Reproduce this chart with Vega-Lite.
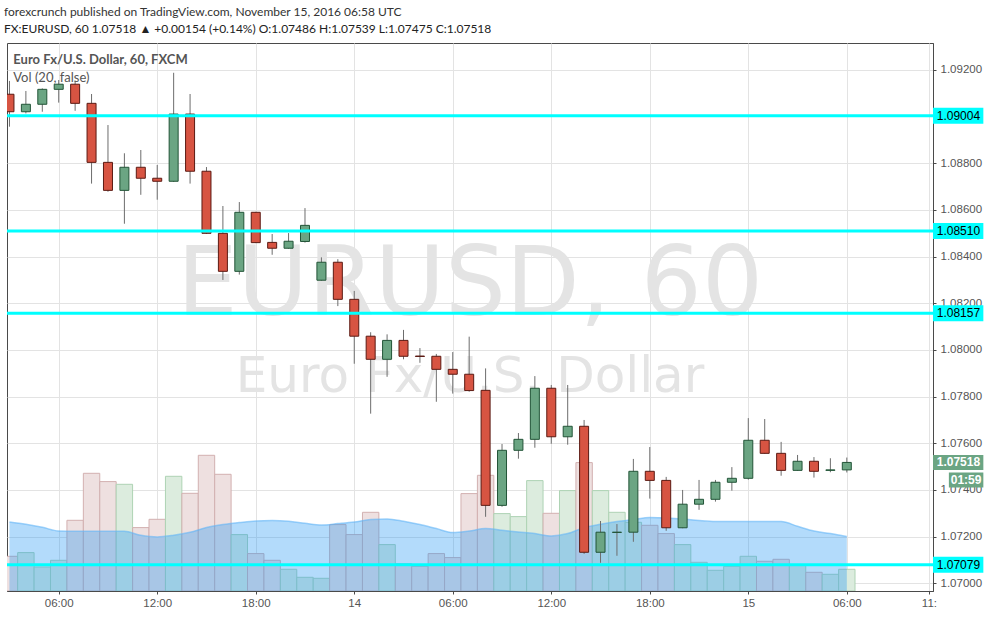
{
  "$schema": "https://vega.github.io/schema/vega-lite/v6.json",
  "width": 926,
  "height": 548,
  "autosize": {"type": "none"},
  "padding": {"left": 7, "top": 43, "right": 58, "bottom": 26},
  "background": "#ffffff",
  "title": {
    "text": "forexcrunch published on TradingView.com, November 15, 2016 06:58 UTC",
    "subtitle": "FX:EURUSD, 60 1.07518 ▲ +0.00154 (+0.14%) O:1.07486 H:1.07539 L:1.07475 C:1.07518",
    "anchor": "start",
    "frame": "group",
    "orient": "top",
    "offset": 7,
    "dx": -3,
    "font": "Lato",
    "fontSize": 12,
    "fontWeight": "normal",
    "color": "#333333",
    "subtitleFont": "Lato",
    "subtitleFontSize": 12,
    "subtitleFontWeight": "normal",
    "subtitleColor": "#222222",
    "subtitlePadding": 5
  },
  "config": {
    "view": {"stroke": "#4a4a4a", "strokeWidth": 1, "fill": "#ffffff"},
    "scale": {"continuousPadding": 0}
  },
  "datasets": {
    "candles": [
      {"t": "2016-11-13T03:00:00Z", "o": 1.09096, "h": 1.09153, "l": 1.08957, "c": 1.09021, "v": 3470, "ma": 6900},
      {"t": "2016-11-13T04:00:00Z", "o": 1.09021, "h": 1.09110, "l": 1.09014, "c": 1.09053, "v": 3840, "ma": 6670},
      {"t": "2016-11-13T05:00:00Z", "o": 1.09053, "h": 1.09121, "l": 1.09021, "c": 1.09117, "v": 2400, "ma": 6370},
      {"t": "2016-11-13T06:00:00Z", "o": 1.09117, "h": 1.09157, "l": 1.09060, "c": 1.09139, "v": 3070, "ma": 6000},
      {"t": "2016-11-13T07:00:00Z", "o": 1.09139, "h": 1.09154, "l": 1.09025, "c": 1.09057, "v": 7070, "ma": 5970},
      {"t": "2016-11-13T08:00:00Z", "o": 1.09057, "h": 1.09097, "l": 1.08713, "c": 1.08804, "v": 11770, "ma": 5970},
      {"t": "2016-11-13T09:00:00Z", "o": 1.08804, "h": 1.08964, "l": 1.08678, "c": 1.08684, "v": 10940, "ma": 5970},
      {"t": "2016-11-13T10:00:00Z", "o": 1.08684, "h": 1.08843, "l": 1.08541, "c": 1.08783, "v": 10670, "ma": 5970},
      {"t": "2016-11-13T11:00:00Z", "o": 1.08783, "h": 1.08857, "l": 1.08665, "c": 1.08736, "v": 6340, "ma": 5570},
      {"t": "2016-11-13T12:00:00Z", "o": 1.08736, "h": 1.08793, "l": 1.08644, "c": 1.08723, "v": 7170, "ma": 5400},
      {"t": "2016-11-13T13:00:00Z", "o": 1.08723, "h": 1.09188, "l": 1.08720, "c": 1.09011, "v": 11470, "ma": 5570},
      {"t": "2016-11-13T14:00:00Z", "o": 1.09011, "h": 1.09097, "l": 1.08713, "c": 1.08766, "v": 9770, "ma": 5870},
      {"t": "2016-11-13T15:00:00Z", "o": 1.08766, "h": 1.08784, "l": 1.08497, "c": 1.08500, "v": 13570, "ma": 6340},
      {"t": "2016-11-13T16:00:00Z", "o": 1.08500, "h": 1.08617, "l": 1.08300, "c": 1.08337, "v": 11670, "ma": 6640},
      {"t": "2016-11-13T17:00:00Z", "o": 1.08337, "h": 1.08634, "l": 1.08323, "c": 1.08590, "v": 5640, "ma": 6840},
      {"t": "2016-11-13T18:00:00Z", "o": 1.08590, "h": 1.08592, "l": 1.08458, "c": 1.08460, "v": 3740, "ma": 7000},
      {"t": "2016-11-13T19:00:00Z", "o": 1.08461, "h": 1.08497, "l": 1.08408, "c": 1.08436, "v": 3070, "ma": 7040},
      {"t": "2016-11-13T20:00:00Z", "o": 1.08436, "h": 1.08501, "l": 1.08434, "c": 1.08466, "v": 2170, "ma": 6970},
      {"t": "2016-11-13T21:00:00Z", "o": 1.08465, "h": 1.08608, "l": 1.08460, "c": 1.08534, "v": 1370, "ma": 6770},
      {"t": "2016-11-13T22:00:00Z", "o": 1.08299, "h": 1.08397, "l": 1.08297, "c": 1.08376, "v": 1270, "ma": 6600},
      {"t": "2016-11-13T23:00:00Z", "o": 1.08376, "h": 1.08389, "l": 1.08188, "c": 1.08217, "v": 6640, "ma": 6740},
      {"t": "2016-11-14T00:00:00Z", "o": 1.08217, "h": 1.08253, "l": 1.07941, "c": 1.08059, "v": 5640, "ma": 6900},
      {"t": "2016-11-14T01:00:00Z", "o": 1.08059, "h": 1.08076, "l": 1.07727, "c": 1.07960, "v": 7870, "ma": 7140},
      {"t": "2016-11-14T02:00:00Z", "o": 1.07960, "h": 1.08067, "l": 1.07885, "c": 1.08041, "v": 4640, "ma": 7200},
      {"t": "2016-11-14T03:00:00Z", "o": 1.08041, "h": 1.08086, "l": 1.07960, "c": 1.07973, "v": 2720, "ma": 6970},
      {"t": "2016-11-14T04:00:00Z", "o": 1.07974, "h": 1.08008, "l": 1.07945, "c": 1.07972, "v": 2470, "ma": 6640},
      {"t": "2016-11-14T05:00:00Z", "o": 1.07973, "h": 1.07983, "l": 1.07778, "c": 1.07917, "v": 3740, "ma": 6240},
      {"t": "2016-11-14T06:00:00Z", "o": 1.07917, "h": 1.07991, "l": 1.07813, "c": 1.07896, "v": 3340, "ma": 5840},
      {"t": "2016-11-14T07:00:00Z", "o": 1.07896, "h": 1.08057, "l": 1.07821, "c": 1.07826, "v": 9740, "ma": 6000},
      {"t": "2016-11-14T08:00:00Z", "o": 1.07827, "h": 1.07921, "l": 1.07285, "c": 1.07334, "v": 11570, "ma": 6240},
      {"t": "2016-11-14T09:00:00Z", "o": 1.07334, "h": 1.07597, "l": 1.07328, "c": 1.07570, "v": 7740, "ma": 6070},
      {"t": "2016-11-14T10:00:00Z", "o": 1.07570, "h": 1.07644, "l": 1.07534, "c": 1.07617, "v": 7440, "ma": 5900},
      {"t": "2016-11-14T11:00:00Z", "o": 1.07617, "h": 1.07888, "l": 1.07581, "c": 1.07836, "v": 11040, "ma": 5740},
      {"t": "2016-11-14T12:00:00Z", "o": 1.07836, "h": 1.07850, "l": 1.07598, "c": 1.07628, "v": 7770, "ma": 5500},
      {"t": "2016-11-14T13:00:00Z", "o": 1.07628, "h": 1.07850, "l": 1.07594, "c": 1.07673, "v": 10040, "ma": 5740},
      {"t": "2016-11-14T14:00:00Z", "o": 1.07673, "h": 1.07700, "l": 1.07126, "c": 1.07133, "v": 12840, "ma": 6340},
      {"t": "2016-11-14T15:00:00Z", "o": 1.07133, "h": 1.07267, "l": 1.07088, "c": 1.07219, "v": 10040, "ma": 6670},
      {"t": "2016-11-14T16:00:00Z", "o": 1.07218, "h": 1.07254, "l": 1.07118, "c": 1.07219, "v": 7870, "ma": 6940},
      {"t": "2016-11-14T17:00:00Z", "o": 1.07219, "h": 1.07533, "l": 1.07178, "c": 1.07480, "v": 6870, "ma": 7140},
      {"t": "2016-11-14T18:00:00Z", "o": 1.07480, "h": 1.07584, "l": 1.07363, "c": 1.07441, "v": 6570, "ma": 7340},
      {"t": "2016-11-14T19:00:00Z", "o": 1.07441, "h": 1.07456, "l": 1.07225, "c": 1.07238, "v": 5740, "ma": 7300},
      {"t": "2016-11-14T20:00:00Z", "o": 1.07238, "h": 1.07400, "l": 1.07236, "c": 1.07339, "v": 4640, "ma": 7200},
      {"t": "2016-11-14T21:00:00Z", "o": 1.07339, "h": 1.07443, "l": 1.07315, "c": 1.07360, "v": 2870, "ma": 7040},
      {"t": "2016-11-14T22:00:00Z", "o": 1.07360, "h": 1.07443, "l": 1.07350, "c": 1.07433, "v": 2070, "ma": 6940},
      {"t": "2016-11-14T23:00:00Z", "o": 1.07433, "h": 1.07498, "l": 1.07397, "c": 1.07450, "v": 2470, "ma": 6940},
      {"t": "2016-11-15T00:00:00Z", "o": 1.07450, "h": 1.07708, "l": 1.07444, "c": 1.07613, "v": 3470, "ma": 6940},
      {"t": "2016-11-15T01:00:00Z", "o": 1.07613, "h": 1.07704, "l": 1.07555, "c": 1.07557, "v": 2970, "ma": 6940},
      {"t": "2016-11-15T02:00:00Z", "o": 1.07557, "h": 1.07606, "l": 1.07461, "c": 1.07484, "v": 3170, "ma": 6940},
      {"t": "2016-11-15T03:00:00Z", "o": 1.07484, "h": 1.07550, "l": 1.07482, "c": 1.07523, "v": 2570, "ma": 6470},
      {"t": "2016-11-15T04:00:00Z", "o": 1.07523, "h": 1.07541, "l": 1.07453, "c": 1.07480, "v": 1870, "ma": 6000},
      {"t": "2016-11-15T05:00:00Z", "o": 1.07484, "h": 1.07536, "l": 1.07476, "c": 1.07486, "v": 1670, "ma": 5740},
      {"t": "2016-11-15T06:00:00Z", "o": 1.07486, "h": 1.07539, "l": 1.07475, "c": 1.07518, "v": 2170, "ma": 5440}
    ],
    "levels": [{"p": 1.09004}, {"p": 1.08510}, {"p": 1.08157}, {"p": 1.07079}],
    "last": [{"p": 1.07518, "countdown": "01:59"}]
  },
  "layer": [
    {
      "data": {"name": "candles"},
      "layer": [
        {
          "mark": {"type": "bar", "width": 16.4, "strokeWidth": 1, "clip": true},
          "encoding": {
            "x": {
              "field": "t", "type": "temporal",
              "scale": {"type": "utc", "padding": 0, "domain": [{"year": 2016, "month": 11, "date": 13, "hours": 2, "minutes": 51, "utc": true}, {"year": 2016, "month": 11, "date": 15, "hours": 11, "minutes": 15, "utc": true}]},
              "axis": {
                "orient": "bottom",
                "title": null,
                "values": [
                  {"year": 2016, "month": 11, "date": 13, "hours": 6, "utc": true},
                  {"year": 2016, "month": 11, "date": 13, "hours": 12, "utc": true},
                  {"year": 2016, "month": 11, "date": 13, "hours": 18, "utc": true},
                  {"year": 2016, "month": 11, "date": 14, "hours": 0, "utc": true},
                  {"year": 2016, "month": 11, "date": 14, "hours": 6, "utc": true},
                  {"year": 2016, "month": 11, "date": 14, "hours": 12, "utc": true},
                  {"year": 2016, "month": 11, "date": 14, "hours": 18, "utc": true},
                  {"year": 2016, "month": 11, "date": 15, "hours": 0, "utc": true},
                  {"year": 2016, "month": 11, "date": 15, "hours": 6, "utc": true},
                  {"year": 2016, "month": 11, "date": 15, "hours": 11, "utc": true}
                ],
                "labelExpr": "utcFormat(datum.value, '%H') == '00' ? utcFormat(datum.value, '%-d') : (utcFormat(datum.value, '%H') == '11' ? '11:' : utcFormat(datum.value, '%H:%M'))",
                "grid": true,
                "gridColor": "#e3e3e3",
                "domainColor": "#4a4a4a",
                "tickColor": "#4a4a4a",
                "tickSize": 3,
                "labelPadding": 3,
                "labelColor": "#555555",
                "labelFont": "Liberation Sans",
                "labelFontSize": 11.5,
                "labelFlush": false,
                "labelOverlap": false
              }
            },
            "y": {"field": "v", "type": "quantitative", "scale": {"domain": [0, 54800], "nice": false, "zero": true, "padding": 0}, "axis": null},
            "fill": {"condition": {"test": "datum.c >= datum.o", "value": "#dcecde"}, "value": "#eee0e0"},
            "stroke": {"condition": {"test": "datum.c >= datum.o", "value": "#aed3b4"}, "value": "#d2b0b0"}
          }
        },
        {
          "mark": {"type": "area", "color": "#2196f3", "opacity": 0.34, "interpolate": "monotone", "clip": true},
          "encoding": {
            "x": {"field": "t", "type": "temporal", "scale": {"type": "utc", "padding": 0, "domain": [{"year": 2016, "month": 11, "date": 13, "hours": 2, "minutes": 51, "utc": true}, {"year": 2016, "month": 11, "date": 15, "hours": 11, "minutes": 15, "utc": true}]}},
            "y": {"field": "ma", "type": "quantitative", "scale": {"domain": [0, 54800], "nice": false, "zero": true, "padding": 0}}
          }
        },
        {
          "mark": {"type": "line", "color": "#64b5f6", "opacity": 0.6, "strokeWidth": 1.5, "interpolate": "monotone", "clip": true},
          "encoding": {
            "x": {"field": "t", "type": "temporal", "scale": {"type": "utc", "padding": 0, "domain": [{"year": 2016, "month": 11, "date": 13, "hours": 2, "minutes": 51, "utc": true}, {"year": 2016, "month": 11, "date": 15, "hours": 11, "minutes": 15, "utc": true}]}},
            "y": {"field": "ma", "type": "quantitative", "scale": {"domain": [0, 54800], "nice": false, "zero": true, "padding": 0}}
          }
        }
      ]
    },
    {
      "layer": [
        {
          "data": {"values": [{"text": "EURUSD, 60"}]},
          "mark": {"type": "text", "font": "DejaVu Sans", "fontSize": 96, "color": "#e4e4e4", "align": "center", "baseline": "alphabetic"},
          "encoding": {
            "x": {"datum": {"year": 2016, "month": 11, "date": 14, "hours": 7, "minutes": 3, "utc": true}, "type": "temporal", "scale": {"type": "utc", "padding": 0, "domain": [{"year": 2016, "month": 11, "date": 13, "hours": 2, "minutes": 51, "utc": true}, {"year": 2016, "month": 11, "date": 15, "hours": 11, "minutes": 15, "utc": true}]}},
            "y": {"datum": 1.0815, "type": "quantitative", "scale": {"domain": [1.06967, 1.093156], "nice": false, "zero": false, "padding": 0}},
            "text": {"field": "text"}
          }
        },
        {
          "data": {"values": [{"text": "Euro Fx/U.S. Dollar"}]},
          "mark": {"type": "text", "font": "DejaVu Sans", "fontSize": 50, "color": "#e4e4e4", "align": "center", "baseline": "alphabetic"},
          "encoding": {
            "x": {"datum": {"year": 2016, "month": 11, "date": 14, "hours": 7, "minutes": 3, "utc": true}, "type": "temporal", "scale": {"type": "utc", "padding": 0, "domain": [{"year": 2016, "month": 11, "date": 13, "hours": 2, "minutes": 51, "utc": true}, {"year": 2016, "month": 11, "date": 15, "hours": 11, "minutes": 15, "utc": true}]}},
            "y": {"datum": 1.078212, "type": "quantitative", "scale": {"domain": [1.06967, 1.093156], "nice": false, "zero": false, "padding": 0}},
            "text": {"field": "text"}
          }
        },
        {
          "data": {"name": "candles"},
          "mark": {"type": "rule", "color": "#6d6d6d", "strokeWidth": 1, "clip": true},
          "encoding": {
            "x": {"field": "t", "type": "temporal", "scale": {"type": "utc", "padding": 0, "domain": [{"year": 2016, "month": 11, "date": 13, "hours": 2, "minutes": 51, "utc": true}, {"year": 2016, "month": 11, "date": 15, "hours": 11, "minutes": 15, "utc": true}]}},
            "y": {
              "field": "l", "type": "quantitative",
              "scale": {"domain": [1.06967, 1.093156], "nice": false, "zero": false, "padding": 0},
              "axis": {
                "orient": "right",
                "title": null,
                "values": [1.07, 1.072, 1.074, 1.076, 1.078, 1.08, 1.082, 1.084, 1.086, 1.088, 1.092],
                "format": ".5f",
                "grid": true,
                "gridColor": "#e3e3e3",
                "domainColor": "#4a4a4a",
                "tickColor": "#4a4a4a",
                "tickSize": 3,
                "labelPadding": 4,
                "labelColor": "#555555",
                "labelFont": "Liberation Sans",
                "labelFontSize": 11.5,
                "labelFlush": false,
                "labelOverlap": false
              }
            },
            "y2": {"field": "h"}
          }
        },
        {
          "data": {"name": "candles"},
          "mark": {"type": "bar", "width": 9, "strokeWidth": 1, "clip": true},
          "encoding": {
            "x": {"field": "t", "type": "temporal", "scale": {"type": "utc", "padding": 0, "domain": [{"year": 2016, "month": 11, "date": 13, "hours": 2, "minutes": 51, "utc": true}, {"year": 2016, "month": 11, "date": 15, "hours": 11, "minutes": 15, "utc": true}]}},
            "y": {"field": "o", "type": "quantitative", "scale": {"domain": [1.06967, 1.093156], "nice": false, "zero": false, "padding": 0}},
            "y2": {"field": "c"},
            "fill": {"condition": {"test": "datum.c >= datum.o", "value": "#6ba583"}, "value": "#d75442"},
            "stroke": {"condition": {"test": "datum.c >= datum.o", "value": "#225437"}, "value": "#5b1a13"}
          }
        },
        {
          "data": {"values": [{"text": "Euro Fx/U.S. Dollar, 60, FXCM"}]},
          "mark": {"type": "text", "font": "Lato", "fontSize": 13, "fontWeight": "bold", "color": "#555555", "align": "left", "baseline": "alphabetic"},
          "encoding": {
            "x": {"datum": {"year": 2016, "month": 11, "date": 13, "hours": 3, "minutes": 14, "utc": true}, "type": "temporal", "scale": {"type": "utc", "padding": 0, "domain": [{"year": 2016, "month": 11, "date": 13, "hours": 2, "minutes": 51, "utc": true}, {"year": 2016, "month": 11, "date": 15, "hours": 11, "minutes": 15, "utc": true}]}},
            "y": {"datum": 1.092243, "type": "quantitative", "scale": {"domain": [1.06967, 1.093156], "nice": false, "zero": false, "padding": 0}},
            "text": {"field": "text"}
          }
        },
        {
          "data": {"values": [{"text": "Vol (20, false)"}]},
          "mark": {"type": "text", "font": "Lato", "fontSize": 13, "color": "#555555", "align": "left", "baseline": "alphabetic"},
          "encoding": {
            "x": {"datum": {"year": 2016, "month": 11, "date": 13, "hours": 3, "minutes": 14, "utc": true}, "type": "temporal", "scale": {"type": "utc", "padding": 0, "domain": [{"year": 2016, "month": 11, "date": 13, "hours": 2, "minutes": 51, "utc": true}, {"year": 2016, "month": 11, "date": 15, "hours": 11, "minutes": 15, "utc": true}]}},
            "y": {"datum": 1.091497, "type": "quantitative", "scale": {"domain": [1.06967, 1.093156], "nice": false, "zero": false, "padding": 0}},
            "text": {"field": "text"}
          }
        },
        {
          "data": {"name": "levels"},
          "mark": {"type": "rule", "color": "#00ffff", "strokeWidth": 3},
          "encoding": {
            "y": {"field": "p", "type": "quantitative", "scale": {"domain": [1.06967, 1.093156], "nice": false, "zero": false, "padding": 0}}
          }
        },
        {
          "data": {"name": "levels"},
          "mark": {"type": "bar", "orient": "horizontal", "height": 16, "color": "#00ffff", "clip": false},
          "encoding": {
            "x": {"datum": {"year": 2016, "month": 11, "date": 15, "hours": 11, "minutes": 15, "utc": true}, "type": "temporal", "scale": {"type": "utc", "padding": 0, "domain": [{"year": 2016, "month": 11, "date": 13, "hours": 2, "minutes": 51, "utc": true}, {"year": 2016, "month": 11, "date": 15, "hours": 11, "minutes": 15, "utc": true}]}},
            "x2": {"datum": {"year": 2016, "month": 11, "date": 15, "hours": 14, "minutes": 19, "utc": true}},
            "y": {"field": "p", "type": "quantitative", "scale": {"domain": [1.06967, 1.093156], "nice": false, "zero": false, "padding": 0}}
          }
        },
        {
          "data": {"name": "levels"},
          "mark": {"type": "text", "font": "Liberation Sans", "fontSize": 12, "color": "#000000", "align": "center", "baseline": "middle", "clip": false},
          "encoding": {
            "x": {"datum": {"year": 2016, "month": 11, "date": 15, "hours": 12, "minutes": 48, "utc": true}, "type": "temporal", "scale": {"type": "utc", "padding": 0, "domain": [{"year": 2016, "month": 11, "date": 13, "hours": 2, "minutes": 51, "utc": true}, {"year": 2016, "month": 11, "date": 15, "hours": 11, "minutes": 15, "utc": true}]}},
            "y": {"field": "p", "type": "quantitative", "scale": {"domain": [1.06967, 1.093156], "nice": false, "zero": false, "padding": 0}},
            "text": {"field": "p", "type": "quantitative", "format": ".5f"}
          }
        },
        {
          "data": {"name": "last"},
          "mark": {"type": "bar", "orient": "horizontal", "height": 15, "color": "#6ba583", "clip": false},
          "encoding": {
            "x": {"datum": {"year": 2016, "month": 11, "date": 15, "hours": 11, "minutes": 15, "utc": true}, "type": "temporal", "scale": {"type": "utc", "padding": 0, "domain": [{"year": 2016, "month": 11, "date": 13, "hours": 2, "minutes": 51, "utc": true}, {"year": 2016, "month": 11, "date": 15, "hours": 11, "minutes": 15, "utc": true}]}},
            "x2": {"datum": {"year": 2016, "month": 11, "date": 15, "hours": 14, "minutes": 19, "utc": true}},
            "y": {"field": "p", "type": "quantitative", "scale": {"domain": [1.06967, 1.093156], "nice": false, "zero": false, "padding": 0}}
          }
        },
        {
          "data": {"name": "last"},
          "mark": {"type": "bar", "orient": "horizontal", "height": 15, "yOffset": 17.5, "color": "#6ba583", "clip": false},
          "encoding": {
            "x": {"datum": {"year": 2016, "month": 11, "date": 15, "hours": 12, "minutes": 13, "utc": true}, "type": "temporal", "scale": {"type": "utc", "padding": 0, "domain": [{"year": 2016, "month": 11, "date": 13, "hours": 2, "minutes": 51, "utc": true}, {"year": 2016, "month": 11, "date": 15, "hours": 11, "minutes": 15, "utc": true}]}},
            "x2": {"datum": {"year": 2016, "month": 11, "date": 15, "hours": 14, "minutes": 19, "utc": true}},
            "y": {"field": "p", "type": "quantitative", "scale": {"domain": [1.06967, 1.093156], "nice": false, "zero": false, "padding": 0}}
          }
        },
        {
          "data": {"name": "last"},
          "mark": {"type": "text", "font": "Liberation Sans", "fontSize": 12, "fontWeight": "bold", "color": "#ffffff", "align": "center", "baseline": "middle", "clip": false},
          "encoding": {
            "x": {"datum": {"year": 2016, "month": 11, "date": 15, "hours": 12, "minutes": 48, "utc": true}, "type": "temporal", "scale": {"type": "utc", "padding": 0, "domain": [{"year": 2016, "month": 11, "date": 13, "hours": 2, "minutes": 51, "utc": true}, {"year": 2016, "month": 11, "date": 15, "hours": 11, "minutes": 15, "utc": true}]}},
            "y": {"field": "p", "type": "quantitative", "scale": {"domain": [1.06967, 1.093156], "nice": false, "zero": false, "padding": 0}},
            "text": {"field": "p", "type": "quantitative", "format": ".5f"}
          }
        },
        {
          "data": {"name": "last"},
          "mark": {"type": "text", "font": "Liberation Sans", "fontSize": 12, "fontWeight": "bold", "color": "#ffffff", "align": "center", "baseline": "middle", "dy": 17.5, "clip": false},
          "encoding": {
            "x": {"datum": {"year": 2016, "month": 11, "date": 15, "hours": 13, "minutes": 16, "utc": true}, "type": "temporal", "scale": {"type": "utc", "padding": 0, "domain": [{"year": 2016, "month": 11, "date": 13, "hours": 2, "minutes": 51, "utc": true}, {"year": 2016, "month": 11, "date": 15, "hours": 11, "minutes": 15, "utc": true}]}},
            "y": {"field": "p", "type": "quantitative", "scale": {"domain": [1.06967, 1.093156], "nice": false, "zero": false, "padding": 0}},
            "text": {"field": "countdown"}
          }
        }
      ]
    }
  ],
  "resolve": {"scale": {"y": "independent"}, "axis": {"y": "independent"}}
}
